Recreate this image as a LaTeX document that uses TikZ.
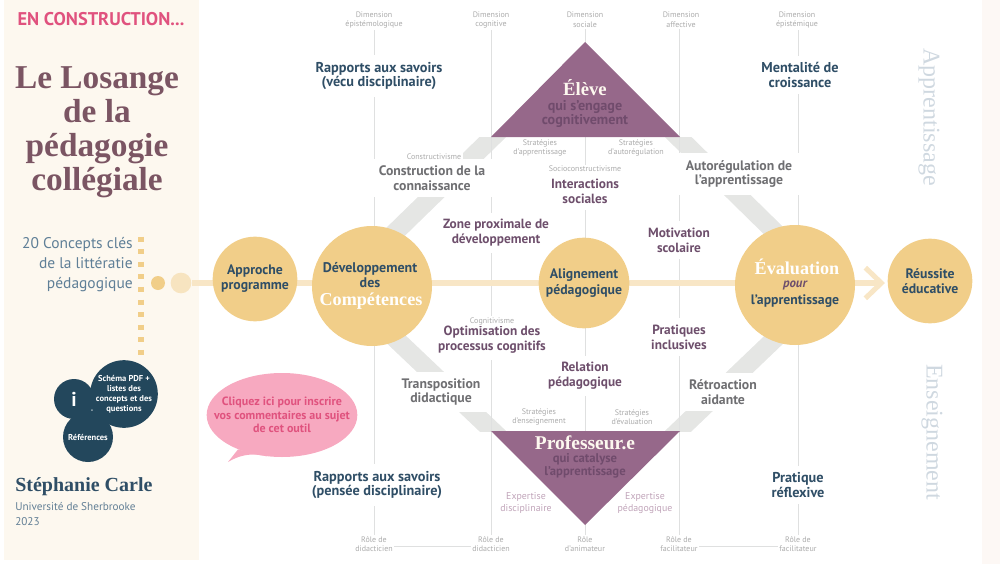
\documentclass[tikz,border=0pt]{standalone}
\usepackage{fontspec}
\usepackage{xcolor}
\setmainfont{PT Sans}
\newfontfamily\serifa{Liberation Serif}
\usetikzlibrary{arrows.meta,backgrounds,shapes.geometric}

\definecolor{creme}{HTML}{FDF8EF}
\definecolor{cremeb}{HTML}{FDF8F5}
\definecolor{jaune}{HTML}{F1CE89}
\definecolor{jaunec}{HTML}{F8E6C6}
\definecolor{prune}{HTML}{96688A}
\definecolor{prunef}{HTML}{704B6C}
\definecolor{prunet}{HTML}{6E4F6C}
\definecolor{titrec}{HTML}{7B5563}
\definecolor{bleu}{HTML}{2F4E66}
\definecolor{bleuf}{HTML}{23475C}
\definecolor{bleuc}{HTML}{5F7F97}
\definecolor{gris}{HTML}{6F6F72}
\definecolor{bande}{HTML}{E5E6E4}
\definecolor{axe}{HTML}{DFE0E0}
\definecolor{rose}{HTML}{F7A9C0}
\definecolor{roset}{HTML}{E0527E}

\tikzset{
  concept/.style={align=center,fill=white,inner sep=5pt,font=\fontsize{10}{11.2}\selectfont\bfseries},
  conceptB/.style={concept,text=bleu,font=\fontsize{10.7}{11.2}\selectfont\bfseries},
  conceptG/.style={concept,text=gris,font=\fontsize{10.3}{11.2}\selectfont\bfseries},
  mince/.style={align=center,fill=white,inner sep=1pt,text=gray!65,font=\fontsize{6}{7.2}\selectfont},
  rond/.style={circle,fill=jaune,inner sep=0pt,align=center,text=bleu,font=\fontsize{10.3}{11.4}\selectfont\bfseries},
  sombre/.style={circle,fill=bleuf,inner sep=0pt,align=center,text=white,font=\fontsize{6.4}{7.5}\selectfont\bfseries},
  sur/.style={align=center,inner sep=0pt},
  axeV/.style={draw=axe,line width=.5pt},
  bandeL/.style={draw=bande,line width=14pt},
}

\begin{document}
\begin{tikzpicture}[x=.75pt,y=-.75pt]
    \useasboundingbox (0,0) rectangle (1000,564);

    % left column
    \node[sur,text=roset,font=\fontsize{13.8}{15}\selectfont\bfseries] (chantier) at (101,19) {EN CONSTRUCTION...};
    \node[sur,text=titrec,font=\fontsize{25}{25.5}\selectfont\serifa\bfseries] (titre) at (97,132)
      {Le Losange\\de la\\pédagogie\\collégiale};
    \node[align=right,inner sep=0pt,anchor=east,text=bleuc,font=\fontsize{11.6}{15}\selectfont] (concepts) at (133,265)
      {20 Concepts clés\\de la littératie\\pédagogique};
    \node[circle,fill=jaune,minimum size=10.5pt,inner sep=0pt] (pointA) at (158,283) {};
    \node[circle,fill=jaunec!90!jaune,minimum size=15.5pt,inner sep=0pt] (pointB) at (181,283) {};
    \coordinate (pointille) at (141,236.5);

    \node[sombre,minimum size=30pt,font=\fontsize{15}{15}\selectfont\bfseries] (info) at (74,399) {i};
    \node[sombre,minimum size=50pt] (schema) at (124,394) {Schéma PDF +\\listes des\\concepts et des\\questions};
    \node[sombre,minimum size=37.5pt] (references) at (88,437) {Références};
    \node[circle,fill=bleuf,minimum size=9pt,inner sep=0pt,text=white,font=\fontsize{5}{6}\selectfont\bfseries] (tiret) at (92,411) {-};

    \node[anchor=west,inner sep=0pt,text=bleu,font=\fontsize{15}{16}\selectfont\serifa\bfseries] (auteure) at (15,487) {Stéphanie Carle};
    \node[anchor=north west,align=left,inner sep=0pt,text=bleuc!90!gray,font=\fontsize{8.4}{11}\selectfont] (universite) at (15,502)
      {Université de Sherbrooke\\2023};

    % speech bubble
    \node[ellipse,fill=rose,minimum width=113pt,minimum height=63pt,inner xsep=-17pt,inner ysep=0pt,align=center,text=roset,
      font=\fontsize{9}{10.2}\selectfont\bfseries] (bulle) at (282,415)
      {Cliquez ici pour inscrire\\vos commentaires au sujet\\de cet outil};
    \coordinate (bullePointe) at (228,462);

    % the two triangles
    \node[inner sep=0pt] (eleveS) at (585,42) {};
    \node[inner sep=0pt] (eleveG) at (491,137) {};
    \node[inner sep=0pt] (eleveD) at (680,137) {};
    \node[inner sep=0pt] (profG) at (491,431) {};
    \node[inner sep=0pt] (profD) at (680,431) {};
    \node[inner sep=0pt] (profS) at (585,525) {};
    \coordinate (losangeG) at (340,286);
    \coordinate (losangeD) at (830,286);

    % top and bottom labels of the vertical lines
    \node[mince] (dimA) at (374,20) {Dimension\\épistémologique};
    \node[mince] (dimB) at (491,20) {Dimension\\cognitive};
    \node[mince] (dimC) at (585,20) {Dimension\\sociale};
    \node[mince] (dimD) at (681,20) {Dimension\\affective};
    \node[mince] (dimE) at (797,20) {Dimension\\épistémique};
    \node[mince] (roleA) at (374,544) {Rôle de\\didacticien};
    \node[mince] (roleB) at (491,544) {Rôle de\\didacticien};
    \node[mince] (roleC) at (585,544) {Rôle\\d'animateur};
    \node[mince] (roleD) at (679,544) {Rôle de\\facilitateur};
    \node[mince] (roleE) at (798,544) {Rôle de\\facilitateur};

    % concepts
    \node[conceptB] (rapportsA) at (379,76) {Rapports aux savoirs\\(vécu disciplinaire)};
    \node[conceptB] (mentalite) at (800,75) {Mentalité de\\croissance};
    \node[conceptB] (rapportsB) at (377,485) {Rapports aux savoirs\\(pensée disciplinaire)};
    \node[conceptB] (pratique) at (798,485) {Pratique\\réflexive};
    \node[conceptG] (construction) at (432,178) {Construction de la\\connaissance};
    \node[conceptG] (autoreg) at (739,174) {Autorégulation de\\l'apprentissage};
    \node[conceptG] (transposition) at (441,392) {Transposition\\didactique};
    \node[conceptG] (retroaction) at (723,392) {Rétroaction\\aidante};
    \node[concept,text=prunet] (interactions) at (585,191) {Interactions\\sociales};
    \node[concept,text=prunet] (zone) at (496,233) {Zone proximale de\\développement};
    \node[concept,text=prunet] (motivation) at (679,240) {Motivation\\scolaire};
    \node[concept,text=prunet] (optimisation) at (492,340) {Optimisation des\\processus cognitifs};
    \node[concept,text=prunet] (inclusives) at (679,337) {Pratiques\\inclusives};
    \node[concept,text=prunet] (relation) at (585,376) {Relation\\pédagogique};

    \node[mince] (constructivisme) at (434,157) {Constructivisme};
    \node[mince] (socio) at (585,169) {Socioconstructivisme};
    \node[mince] (cognitivisme) at (492,321) {Cognitivisme};
    \node[mince] (stratA) at (540,148) {Stratégies\\d'apprentissage};
    \node[mince] (stratB) at (636,148) {Stratégies\\d'autorégulation};
    \node[mince] (stratC) at (539,417) {Stratégies\\d'enseignement};
    \node[mince] (stratD) at (632,417) {Stratégies\\d'évaluation};
    \node[sur,text=prune!60!white,font=\fontsize{7.4}{9}\selectfont] (expertiseA) at (526,503) {Expertise\\disciplinaire};
    \node[sur,text=prune!60!white,font=\fontsize{7.4}{9}\selectfont] (expertiseB) at (645,503) {Expertise\\pédagogique};

    % circles of the main axis
    \node[rond,minimum size=63.5pt] (approche) at (255,279) {Approche\\programme};
    \node[rond,minimum size=90pt] (developpement) at (372,286) {};
    \node[sur,text=bleu,font=\fontsize{10.5}{11.2}\selectfont\bfseries] (devTexte) at (370,275) {Développement\\des};
    \node[sur,text=white,font=\fontsize{13.6}{14}\selectfont\serifa\bfseries] (competences) at (371,301) {Compétences};
    \node[rond,minimum size=68pt] (alignement) at (584,283) {Alignement\\pédagogique};
    \node[rond,minimum size=90pt] (evaluation) at (795,285) {};
    \node[sur,text=white,font=\fontsize{13.6}{14}\selectfont\serifa\bfseries] (evalTitre) at (797,267) {Évaluation};
    \node[sur,text=prunet,font=\fontsize{9.6}{11.2}\selectfont\bfseries\itshape] (evalPour) at (795,285) {pour};
    \node[sur,text=bleu,font=\fontsize{10.3}{11.2}\selectfont\bfseries] (evalSuite) at (795,301) {l'apprentissage};
    \node[rond,minimum size=63.5pt] (reussite) at (930,281) {Réussite\\éducative};
    \coordinate (fleche) at (885,283);

    % side words
    \node[rotate=-90,inner sep=0pt,text=bleuc!30!white,font=\fontsize{18}{18}\selectfont\serifa] (apprentissage) at (929,117) {Apprentissage};
    \node[rotate=-90,inner sep=0pt,text=bleuc!30!white,font=\fontsize{18}{18}\selectfont\serifa] (enseignement) at (932,432) {Enseignement};

    % everything that runs behind the nodes
    \begin{scope}[on background layer]
      \fill[creme] (4,0) rectangle (199,560);
      \fill[cremeb] (982,0) rectangle (1000,564);
      \draw[jaune,line width=3.8pt,dash pattern=on 3.8pt off 5.65pt] (pointille) -- (pointille |- schema.north);

      \fill[rose] (bulle.218) -- (bullePointe) .. controls (238,456) and (250,452) .. (bulle.250) -- cycle;

      % sides of the diamond, cut flat along the triangle bases
      \begin{scope}
        \clip (0,137) rectangle (1000,431);
        \draw[bandeL] (eleveG) ++(10,-8) -- (losangeG);
        \draw[bandeL] (eleveD) ++(-10,-8) -- (losangeD);
        \draw[bandeL] (profG) ++(10,8) -- (losangeG);
        \draw[bandeL] (profD) ++(-10,8) -- (losangeD);
      \end{scope}

      \foreach \a/\b in {dimA/roleA,dimB/roleB,dimC/roleC,dimD/roleD,dimE/roleE}
        \draw[axeV] (\b |- \a) -- (\b);
      \draw[axeV] ([yshift=-2pt]roleA.center) -- ([yshift=-2pt]roleB.center);
      \draw[axeV] ([yshift=-2pt]roleD.center) -- ([yshift=-2pt]roleE.center);

      \draw[jaunec,line width=3.8pt,-{Straight Barb[length=12pt,width=23pt]}] (pointB) -- (fleche);

      \fill[prune] (eleveS.center) -- (eleveG.center) -- (eleveD.center) -- cycle;
      \fill[prune] (profG.center) -- (profD.center) -- (profS.center) -- cycle;
    \end{scope}

    \node[sur,text=creme,font=\fontsize{14}{15}\selectfont\serifa\bfseries] (eleve) at (585,88) {Élève};
    \node[sur,text=prunef,font=\fontsize{10.6}{11.2}\selectfont\bfseries] (eleveTexte) at (585,114) {qui s'engage\\cognitivement};
    \node[sur,text=creme,font=\fontsize{14.6}{15}\selectfont\serifa\bfseries] (prof) at (585,443) {Professeur.e};
    \node[sur,text=prunef,font=\fontsize{9.5}{9.8}\selectfont\bfseries] (profTexte) at (585,466) {qui catalyse\\l'apprentissage};
\end{tikzpicture}
\end{document}
